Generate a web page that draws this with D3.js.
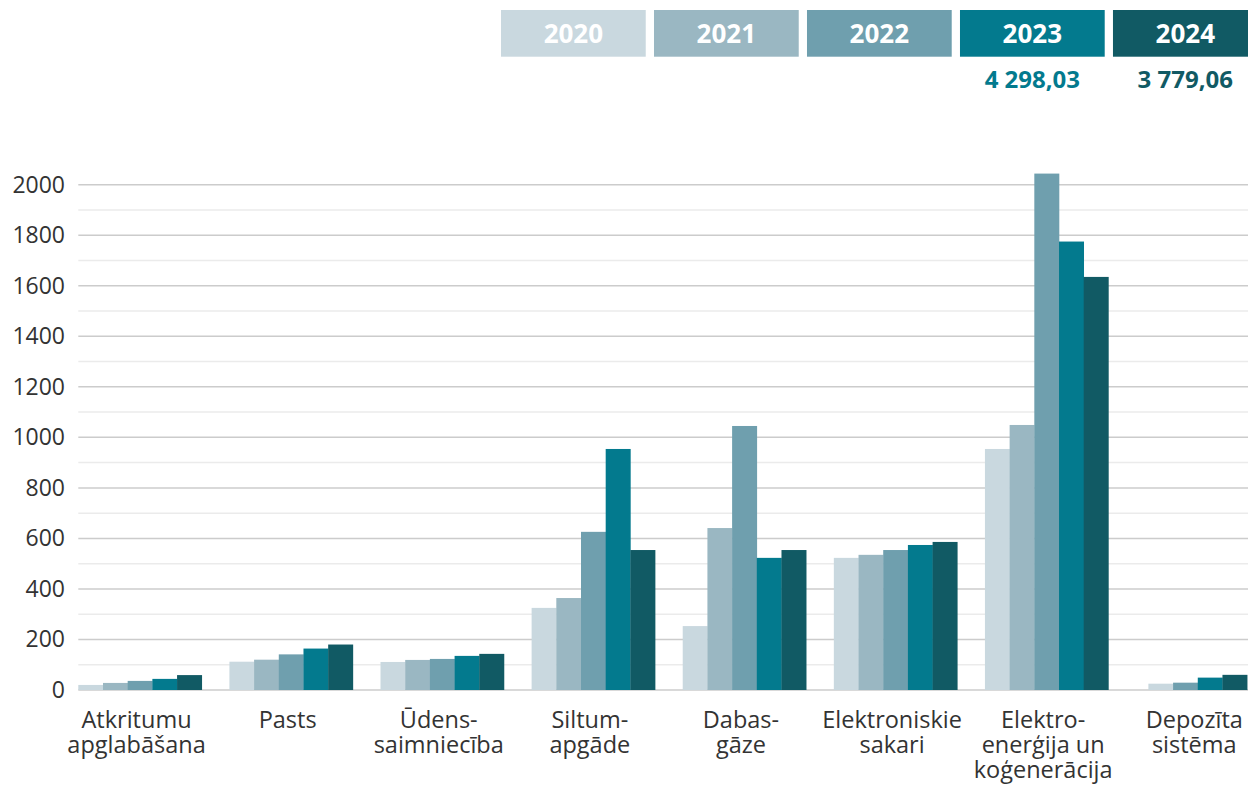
<!DOCTYPE html>
<html>
<head>
<meta charset="utf-8">
<script src="https://cdn.jsdelivr.net/npm/d3@7"></script>
<style>
    body { margin: 0; background: #fff; }
    svg { display: block; font-family: "Open Sans", sans-serif; }
</style>
</head>
<body>
<script>
// dimensions
const width = 1248;
const height = 785;

// categories, drawn as several lines each
const categories = ["atkritumi", "pasts", "udens", "siltums", "gaze", "sakari", "elektro", "depozits"];
const categoryLabels = [
    ["Atkritumu", "apglabāšana"],
    ["Pasts"],
    ["Ūdens-", "saimniecība"],
    ["Siltum-", "apgāde"],
    ["Dabas-", "gāze"],
    ["Elektroniskie", "sakari"],
    ["Elektro-", "enerģija un", "koģenerācija"],
    ["Depozīta", "sistēma"]
];

// series
const years = ["2020", "2021", "2022", "2023", "2024"];
const values2020 = [20, 112, 111, 325, 253, 523, 954, 25];
const values2021 = [28, 120, 119, 364, 641, 535, 1049, null];
const values2022 = [36, 141, 123, 626, 1045, 554, 2044, 29];
const values2023 = [44, 164, 135, 954, 523, 574, 1775, 49];
const values2024 = [59, 180, 143, 554, 554, 586, 1635, 60];
const totals = ["", "", "", "4 298,03", "3 779,06"];

// axis
const yTicks = [0, 200, 400, 600, 800, 1000, 1200, 1400, 1600, 1800, 2000];
const yMinor = [100, 300, 500, 700, 900, 1100, 1300, 1500, 1700, 1900];

const colors = ["#c9d8df", "#9ab7c2", "#6f9fae", "#037a8e", "#115a64"];
const text_color = "#333";

const series = [values2020, values2021, values2022, values2023, values2024];

// one row per category, year -> value
const table = categories.map(function(c, i) {
    let row = { cat: c, label: categoryLabels[i] };
    years.forEach(function(y, j) {
        row[y] = series[j][i];
    });
    return row;
});

let svg = d3.select("body")
    .append("svg")
    .attr("width", width)
    .attr("height", height);

let x0 = d3.scaleBand()
    .domain(categories)
    .range([78.3, 1259.5])
    .paddingInner(0.183)
    .paddingOuter(0);

let y = d3.scaleLinear()
    .domain([0, 2000])
    .range([690, 184.7]);

let color = d3.scaleOrdinal()
    .domain(years)
    .range(colors);

// grid lines, minor first so major sit on top
svg.append("g")
    .selectAll("line")
    .data(yMinor)
    .enter()
    .append("line")
    .attr("x1", 78.3)
    .attr("x2", width)
    .attr("y1", d => y(d))
    .attr("y2", d => y(d))
    .attr("stroke", "#ebebeb")
    .attr("stroke-width", 1.5);

svg.append("g")
    .selectAll("line")
    .data(yTicks)
    .enter()
    .append("line")
    .attr("x1", 78.3)
    .attr("x2", width)
    .attr("y1", d => y(d))
    .attr("y2", d => y(d))
    .attr("stroke", "#cccccc")
    .attr("stroke-width", 1.5);

// y labels
let yAxis = svg.append("g")
    .attr("transform", "translate(65,0)")
    .call(d3.axisLeft(y).tickValues(yTicks).tickSize(0).tickPadding(0).tickFormat(d3.format("d")));
yAxis.select(".domain").remove();
yAxis.selectAll("text")
    .attr("font-family", "'Open Sans', sans-serif")
    .attr("font-size", 23)
    .attr("fill", text_color);

// bars, years with no value are left out and the rest centred in the group
let group = svg.selectAll(".group")
    .data(table)
    .enter()
    .append("g")
    .attr("class", "group");

group.each(function(row) {
    let present = years.filter(yr => row[yr] != null);
    let barW = x0.bandwidth() / years.length;
    let start = x0(row.cat) + (years.length - present.length) * barW / 2;
    let x1 = d3.scaleBand()
        .domain(present)
        .range([start, start + present.length * barW]);

    d3.select(this).selectAll("rect")
        .data(present)
        .enter()
        .append("rect")
        .attr("x", yr => x1(yr))
        .attr("width", x1.bandwidth() + 0.3)
        .attr("y", yr => y(row[yr]))
        .attr("height", yr => y(0) - y(row[yr]))
        .attr("fill", yr => color(yr));
});

// category labels, one text per line
group.selectAll(".label")
    .data(d => d.label.map(l => ({ l: l, cat: d.cat })))
    .enter()
    .append("text")
    .attr("class", "label")
    .attr("text-anchor", "middle")
    .attr("font-size", 23.5)
    .attr("fill", text_color)
    .attr("x", d => x0(d.cat) + x0.bandwidth() / 2 - 3.5)
    .attr("y", (d, i) => 727.5 + i * 25)
    .text(d => d.l);

// legend boxes along the top
let lx = d3.scaleBand()
    .domain(years)
    .range([501, 1257.7])
    .paddingInner(0.054)
    .paddingOuter(0);

let legend = svg.selectAll(".legend")
    .data(years)
    .enter()
    .append("g")
    .attr("class", "legend");

legend.append("rect")
    .attr("x", d => lx(d))
    .attr("y", 10)
    .attr("width", lx.bandwidth())
    .attr("height", 46.7)
    .attr("fill", d => color(d));

legend.append("text")
    .attr("x", d => lx(d) + lx.bandwidth() / 2)
    .attr("y", 33.5)
    .attr("dy", "0.35em")
    .attr("text-anchor", "middle")
    .attr("font-size", 26)
    .attr("font-weight", "bold")
    .attr("fill", "#fff")
    .text(d => d);

legend.append("text")
    .attr("x", d => lx(d) + lx.bandwidth() / 2)
    .attr("y", 88.3)
    .attr("text-anchor", "middle")
    .attr("font-size", 24)
    .attr("font-weight", "bold")
    .attr("fill", d => color(d))
    .text((d, i) => totals[i]);
</script>
</body>
</html>
